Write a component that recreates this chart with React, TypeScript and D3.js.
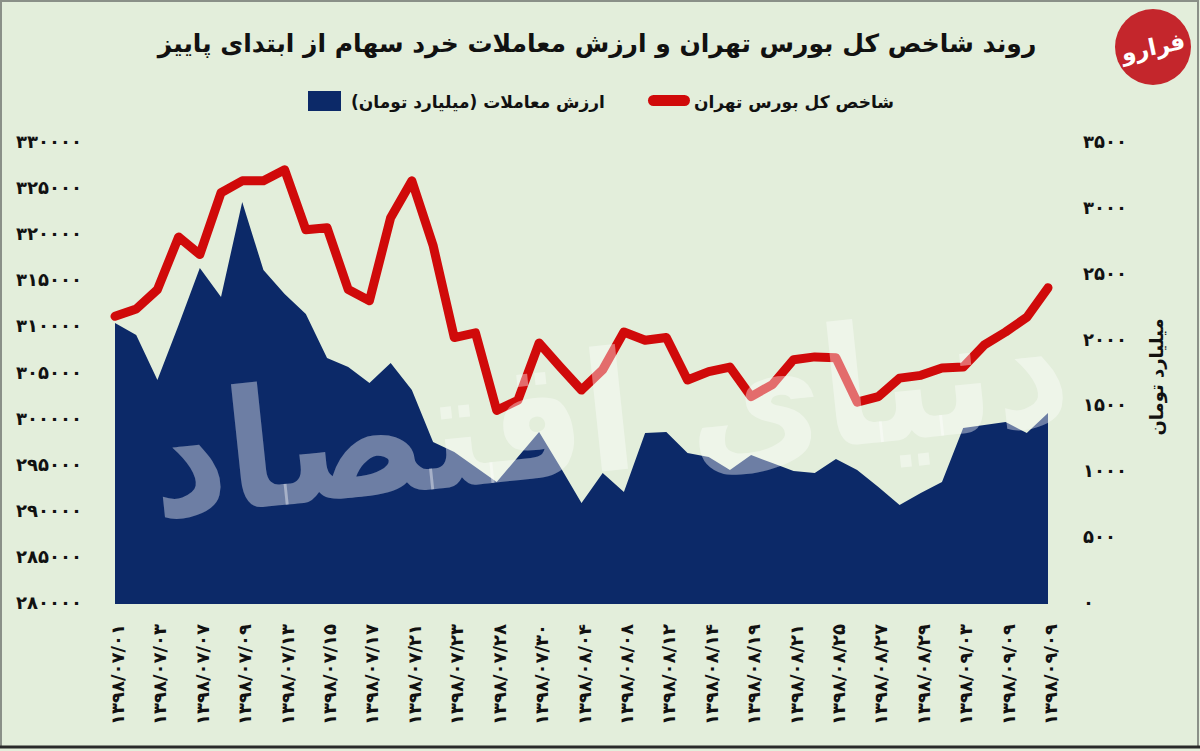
import React from "react";
import * as d3 from "d3";

const tickLabels = [
  "1398/07/01", "1398/07/03", "1398/07/07", "1398/07/09", "1398/07/13", "1398/07/15",
  "1398/07/17", "1398/07/21", "1398/07/23", "1398/07/28", "1398/07/30", "1398/08/04",
  "1398/08/08", "1398/08/12", "1398/08/14", "1398/08/19", "1398/08/21", "1398/08/25",
  "1398/08/27", "1398/08/29", "1398/09/03", "1398/09/09", "1398/09/09",
];

// Tehran stock exchange total index (left axis)
const indexValues = [
  311200, 312000, 314100, 319800, 317900, 324600, 325900, 325900, 327100, 320600,
  320800, 314100, 312900, 321900, 325900, 318900, 308900, 309400, 301000, 302100,
  308300, 305700, 303200, 305400, 309500, 308600, 308900, 304300, 305200, 305700,
  302500, 303800, 306500, 306800, 306700, 301900, 302500, 304500, 304800, 305600,
  305700, 308100, 309500, 311100, 314300,
];

// Trade value, billion toman (right axis)
const tradeValues = [
  2133, 2042, 1701, 2118, 2551, 2331, 3052, 2536, 2354, 2202,
  1868, 1799, 1678, 1830, 1625, 1230, 1154, 1040, 926, 1116,
  1306, 1040, 767, 995, 850, 1298, 1306, 1146, 1116, 1017,
  1131, 1070, 1010, 995, 1101, 1017, 888, 752, 843, 926,
  1336, 1359, 1382, 1298, 1450,
];

const leftTicks = [280000, 285000, 290000, 295000, 300000, 305000, 310000, 315000, 320000, 325000, 330000];
const rightTicks = [0, 500, 1000, 1500, 2000, 2500, 3000, 3500];

const title = "روند شاخص کل بورس تهران و ارزش معاملات خرد سهام از ابتدای پاییز";
const legendIndex = "شاخص کل بورس تهران";
const legendTrade = "ارزش معاملات (میلیارد تومان)";
const rightAxisTitle = "میلیارد تومان";
const watermark = "دنیای اقتصاد";

const FA = "۰۱۲۳۴۵۶۷۸۹";
const toFa = (s: string) => s.replace(/\d/g, (d) => FA[+d]);

const W = 1200;
const H = 751;
const BG = "#e3eedb";
const NAVY = "#0c2968";
const RED = "#d00a0a";
const FONT = "'DejaVu Sans', sans-serif";

export default function App() {
  const idx = indexValues.map((_, i) => i);
  const x = d3.scalePoint<number>().domain(idx).range([115, 1048]);
  const yL = d3.scaleLinear().domain([280000, 330000]).range([604, 143]);
  const yR = d3.scaleLinear().domain([0, 3500]).range([604, 143]);

  const area = d3
    .area<number>()
    .x((_, i) => x(i) as number)
    .y0(yR(0))
    .y1((d) => yR(d));
  const line = d3
    .line<number>()
    .x((_, i) => x(i) as number)
    .y((d) => yL(d));

  return (
    <svg
      width={W}
      height={H}
      viewBox={`0 0 ${W} ${H}`}
      style={{ position: "absolute", left: 0, top: 0, display: "block" }}
      fontFamily={FONT}
    >
      <rect x={0} y={0} width={W} height={H} fill={BG} />
      <rect x={1} y={1} width={W - 3} height={H - 5} fill="none" stroke="#8a9088" strokeWidth={2} />
      <line x1={0} x2={W} y1={H - 4} y2={H - 4} stroke="#2a2a2a" strokeWidth={3} />

      {/* Title */}
      <text x={597} y={52} textAnchor="middle" fontSize={25} fontWeight="bold" fill="#111" direction="rtl">
        {title}
      </text>

      {/* Logo */}
      <g transform="translate(1153,47)">
        <circle r={38} fill="#c4262c" />
        <text
          x={0}
          y={8}
          textAnchor="middle"
          fontSize={23}
          fontWeight="bold"
          fill="#fff"
          transform="rotate(-12)"
          direction="rtl"
        >
          فرارو
        </text>
      </g>

      {/* Legend */}
      <rect x={648} y={95} width={42} height={11} rx={5.5} fill={RED} />
      <text x={794} y={108} textAnchor="middle" fontSize={17} fontWeight="bold" fill="#111" direction="rtl">
        {legendIndex}
      </text>
      <rect x={308} y={91} width={33} height={20} fill={NAVY} />
      <text x={478} y={108} textAnchor="middle" fontSize={17} fontWeight="bold" fill="#111" direction="rtl">
        {legendTrade}
      </text>

      {/* Area (trade value) */}
      <path d={area(tradeValues) || ""} fill={NAVY} />

      {/* Line (index) */}
      <path
        d={line(indexValues) || ""}
        fill="none"
        stroke={RED}
        strokeWidth={9}
        strokeLinejoin="round"
        strokeLinecap="round"
      />

      {/* Watermark */}
      <g transform="translate(615,470) rotate(-6) scale(0.9,1)">
        <text
          x={0}
          y={0}
          textAnchor="middle"
          fontSize={165}
          fontWeight="bold"
          fill="#ffffff"
          fillOpacity={0.4}
          direction="rtl"
        >
          {watermark}
        </text>
      </g>

      {/* Left axis */}
      {leftTicks.map((t) => (
        <text
          key={"l" + t}
          x={82}
          y={yL(t)}
          textAnchor="end"
          dominantBaseline="middle"
          fontSize={18}
          fontWeight="bold"
          fill="#111"
        >
          {toFa(String(t))}
        </text>
      ))}

      {/* Right axis */}
      {rightTicks.map((t) => (
        <text
          key={"r" + t}
          x={1083}
          y={yR(t)}
          textAnchor="start"
          dominantBaseline="middle"
          fontSize={18}
          fontWeight="bold"
          fill="#111"
        >
          {toFa(String(t))}
        </text>
      ))}
      <text
        transform="translate(1158,377) rotate(-90)"
        textAnchor="middle"
        dominantBaseline="middle"
        fontSize={18}
        fontWeight="bold"
        fill="#111"
        direction="rtl"
      >
        {rightAxisTitle}
      </text>

      {/* X axis labels */}
      {tickLabels.map((lab, k) => {
        const i = k * 2;
        return (
          <text
            key={"x" + k}
            transform={`translate(${(x(i) as number) + 4},624) rotate(-90)`}
            textAnchor="end"
            dominantBaseline="middle"
            fontSize={18}
            fontWeight="bold"
            fill="#111"
          >
            {toFa(lab)}
          </text>
        );
      })}
    </svg>
  );
}
